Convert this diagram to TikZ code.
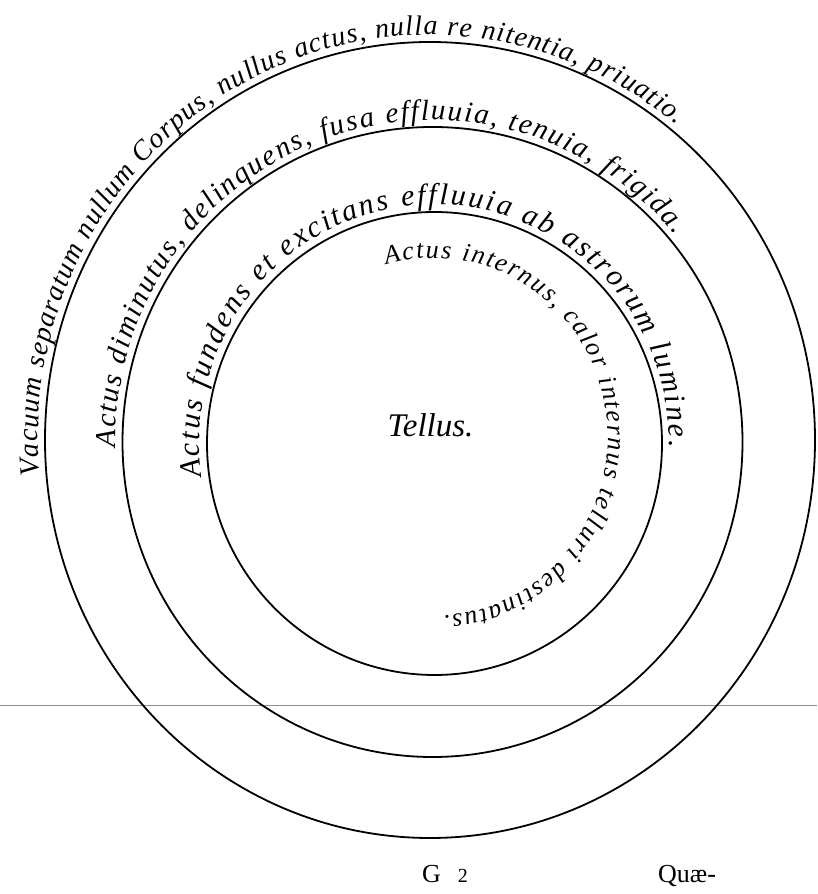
\documentclass[tikz,border=0pt]{standalone}
\usepackage{fontspec}
\setmainfont{Liberation Serif}
\usetikzlibrary{decorations.text}
\begin{document}
\begin{tikzpicture}[x=1pt,y=1pt,
  ring/.style={draw=black, line width=1.8pt},
  rule/.style={draw=black!45, line width=0.9pt},
  arctext/.style={decorate, decoration={text along path, text align=fit to path, text={#1}}},
  label/.style={inner sep=0pt, font=\itshape\fontsize{33pt}{33pt}\selectfont},
  foot/.style={inner sep=0pt, font=\fontsize{26pt}{26pt}\selectfont}
]
\useasboundingbox (0,0) rectangle (817,894);
\fill[white] (0,0) rectangle (817,894);
% centres
\coordinate (C1) at (430,454);
\coordinate (C2) at (432.5,452);
\coordinate (C3) at (434.5,450.5);
\coordinate (C4) at (434,457);
% horizontal rule
\coordinate (hl) at (0,189);
\coordinate (hr) at (817,189);
\draw[rule] (hl) -- (hr);
% circles
\draw[ring] (C1) ellipse [x radius=385, y radius=398];
\draw[ring] (C2) ellipse [x radius=310, y radius=315];
\draw[ring] (C3) ellipse [x radius=227.5, y radius=231.5];
% texts on arcs
\path[arctext={|\itshape\fontsize{28pt}{28pt}\selectfont|Vacuum separatum nullum Corpus, nullus actus, nulla re nitentia, priuatio.}, shift={(C1)}]
  (185:392 and 405) arc[start angle=185, end angle=51, x radius=392, y radius=405];
\path[arctext={|\itshape\fontsize{29pt}{29pt}\selectfont|Actus diminutus, delinquens, fusa effluuia, tenuia, frigida.}, shift={(C2)}]
  (181:317 and 322) arc[start angle=181, end angle=40, x radius=317, y radius=322];
\path[arctext={|\itshape\fontsize{30pt}{30pt}\selectfont|Actus fundens et excitans effluuia ab astrorum lumine.}, shift={(C3)}]
  (188:235 and 239) arc[start angle=188, end angle=-1, x radius=235, y radius=239];
\path[arctext={|\itshape\fontsize{26pt}{26pt}\selectfont|Actus internus, calor internus telluri destinatus.}, shift={(C4)}]
  (106:174 and 179) arc[start angle=106, end angle=-87, x radius=174, y radius=179];
% centre label
\node[label, anchor=base] (tellus) at (430.5,457) {Tellus.};
% footer
\node[foot, anchor=base west] (sig) at (422,11) {G\hspace{17pt}{\fontsize{20pt}{20pt}\selectfont 2}};
\node[foot, anchor=base west] (catch) at (658,11) {Quæ-};
\end{tikzpicture}
\end{document}
